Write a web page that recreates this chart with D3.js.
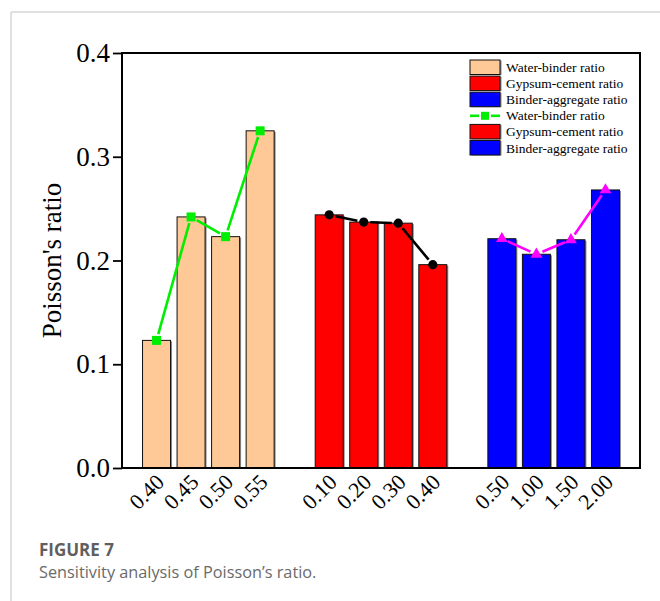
<!DOCTYPE html>
<html>
<head>
<meta charset="utf-8">
<script src="https://cdn.jsdelivr.net/npm/d3@7"></script>
<style>
  html, body { margin: 0; padding: 0; background: #fff; }
  svg { display: block; }
</style>
</head>
<body>
<svg id="chart" width="660" height="601"></svg>
<script>
// ---- data ----
const wbLabels = ["0.40", "0.45", "0.50", "0.55"];
const wbValues = [0.123, 0.242, 0.223, 0.325];
const gcLabels = ["0.10", "0.20", "0.30", "0.40"];
const gcValues = [0.244, 0.237, 0.236, 0.196];
const baLabels = ["0.50", "1.00", "1.50", "2.00"];
const baValues = [0.221, 0.206, 0.220, 0.268];
const yTicks = [0.0, 0.1, 0.2, 0.3, 0.4];
const legendLabels = ["Water-binder ratio", "Gypsum-cement ratio", "Binder-aggregate ratio",
                      "Water-binder ratio", "Gypsum-cement ratio", "Binder-aggregate ratio"];
const yTitle = "Poisson's ratio";
const captionTitle = "FIGURE 7";
const captionText = "Sensitivity analysis of Poisson\u2019s ratio.";

// ---- layout ----
const svg = d3.select("#chart");
const L = 122, R = 640, T = 53, B = 468;

const groups = [
  { labels: wbLabels, values: wbValues, start: 0, fill: "#ffc997", line: "#00ee00", marker: "square" },
  { labels: gcLabels, values: gcValues, start: 5, fill: "#ff0000", line: "#000000", marker: "circle" },
  { labels: baLabels, values: baValues, start: 10, fill: "#0000ff", line: "#ff00ff", marker: "triangle" }
];

const x = d3.scaleLinear().domain([-1, 14]).range([L, R]);
const y = d3.scaleLinear().domain([0, 0.4]).range([B, T]);
const barW = 28;

// page border
svg.append("line").attr("x1", 11).attr("x2", 660).attr("y1", 12).attr("y2", 12)
  .attr("stroke", "#d6d6d6").attr("stroke-width", 1.5);
svg.append("line").attr("x1", 11).attr("x2", 11).attr("y1", 12).attr("y2", 601)
  .attr("stroke", "#d6d6d6").attr("stroke-width", 1.5);

// bars
groups.forEach(g => {
  const data = g.values.map((v, i) => ({ v, i: g.start + i }));
  svg.append("g").selectAll("rect.shadow").data(data).join("rect")
    .attr("x", d => x(d.i) - barW / 2 + 1.5).attr("y", d => y(d.v) + 1)
    .attr("width", barW).attr("height", d => B - y(d.v) - 1)
    .attr("fill", "#8a8a8a");
  svg.append("g").selectAll("rect.bar").data(data).join("rect")
    .attr("x", d => x(d.i) - barW / 2).attr("y", d => y(d.v))
    .attr("width", barW).attr("height", d => B - y(d.v))
    .attr("fill", g.fill).attr("stroke", "#111").attr("stroke-width", 1);
});

// lines with gaps + markers
function drawMarker(sel, type, cx, cy, color) {
  if (type === "square") {
    sel.append("rect").attr("x", cx - 4.5).attr("y", cy - 4.5).attr("width", 9).attr("height", 9).attr("fill", color);
  } else if (type === "circle") {
    sel.append("circle").attr("cx", cx).attr("cy", cy).attr("r", 4.6).attr("fill", color);
  } else {
    sel.append("path").attr("d", d3.symbol().type(d3.symbolTriangle).size(60)()).attr("transform", `translate(${cx},${cy})`).attr("fill", color);
  }
}
groups.forEach(g => {
  const pts = g.values.map((v, i) => [x(g.start + i), y(v)]);
  const gl = svg.append("g");
  const gap = 6.5;
  for (let k = 0; k < pts.length - 1; k++) {
    const [x1, y1] = pts[k], [x2, y2] = pts[k + 1];
    const dx = x2 - x1, dy = y2 - y1, len = Math.hypot(dx, dy);
    const ux = dx / len, uy = dy / len;
    gl.append("line")
      .attr("x1", x1 + ux * gap).attr("y1", y1 + uy * gap)
      .attr("x2", x2 - ux * gap).attr("y2", y2 - uy * gap)
      .attr("stroke", g.line).attr("stroke-width", 2.6);
  }
  pts.forEach(p => drawMarker(gl, g.marker, p[0], p[1], g.line));
});

// frame
svg.append("rect").attr("x", L).attr("y", T).attr("width", R - L).attr("height", B - T)
  .attr("fill", "none").attr("stroke", "#000").attr("stroke-width", 2);

// y axis
const yAxis = svg.append("g").attr("transform", `translate(${L},0)`)
  .call(d3.axisLeft(y).tickValues(yTicks).tickFormat(d3.format(".1f")).tickSize(9).tickPadding(3));
yAxis.select(".domain").remove();
yAxis.selectAll(".tick line").attr("stroke", "#000").attr("stroke-width", 1.8);
yAxis.selectAll(".tick text").attr("font-family", "'Liberation Serif', 'Times New Roman', serif")
  .attr("font-size", 27).attr("fill", "#000");

// x axis labels
const allIdx = [], allLab = [];
groups.forEach(g => g.labels.forEach((l, i) => { allIdx.push(g.start + i); allLab.push(l); }));
const xAxis = svg.append("g").attr("transform", `translate(0,${B})`)
  .call(d3.axisBottom(x).tickValues(allIdx).tickFormat((d, i) => allLab[i]).tickSize(0).tickPadding(0));
xAxis.select(".domain").remove();
xAxis.selectAll(".tick text")
  .attr("font-family", "'Liberation Serif', 'Times New Roman', serif")
  .attr("font-size", 22).attr("fill", "#000")
  .attr("text-anchor", "end").attr("y", 0).attr("dy", 0)
  .attr("transform", "translate(8.5,15.5) rotate(-45)");

// y title
svg.append("text").attr("transform", `translate(61,${(T + B) / 2}) rotate(-90)`)
  .attr("text-anchor", "middle")
  .attr("font-family", "'Liberation Serif', 'Times New Roman', serif")
  .attr("font-size", 27).text(yTitle);

// legend
const legendFills = ["#ffc997", "#ff0000", "#0000ff", null, "#ff0000", "#0000ff"];
const lg = svg.append("g");
legendLabels.forEach((lab, i) => {
  const cy = 67.5 + i * 16.1;
  if (legendFills[i]) {
    lg.append("rect").attr("x", 471.5).attr("y", cy - 7).attr("width", 30).attr("height", 14.5).attr("fill", "#8a8a8a");
    lg.append("rect").attr("x", 470).attr("y", cy - 7.5).attr("width", 30).attr("height", 14.5)
      .attr("fill", legendFills[i]).attr("stroke", "#111").attr("stroke-width", 1);
  } else {
    lg.append("line").attr("x1", 470).attr("x2", 479).attr("y1", cy).attr("y2", cy).attr("stroke", "#00ee00").attr("stroke-width", 2.6);
    lg.append("line").attr("x1", 491).attr("x2", 500).attr("y1", cy).attr("y2", cy).attr("stroke", "#00ee00").attr("stroke-width", 2.6);
    lg.append("rect").attr("x", 481).attr("y", cy - 4).attr("width", 8).attr("height", 8).attr("fill", "#00ee00");
  }
  lg.append("text").attr("x", 506).attr("y", cy + 4.5)
    .attr("font-family", "'Liberation Serif', 'Times New Roman', serif")
    .attr("font-size", 13.5).text(lab);
});

// caption
svg.append("text").attr("x", 39).attr("y", 556)
  .attr("font-family", "'Open Sans', 'Noto Sans', sans-serif").attr("font-weight", 700)
  .attr("font-size", 17).attr("fill", "#5f5f5f").text(captionTitle);
svg.append("text").attr("x", 39).attr("y", 578)
  .attr("font-family", "'Open Sans', 'Noto Sans', sans-serif")
  .attr("font-size", 16.3).attr("fill", "#6a6a6a").text(captionText);
</script>
</body>
</html>
